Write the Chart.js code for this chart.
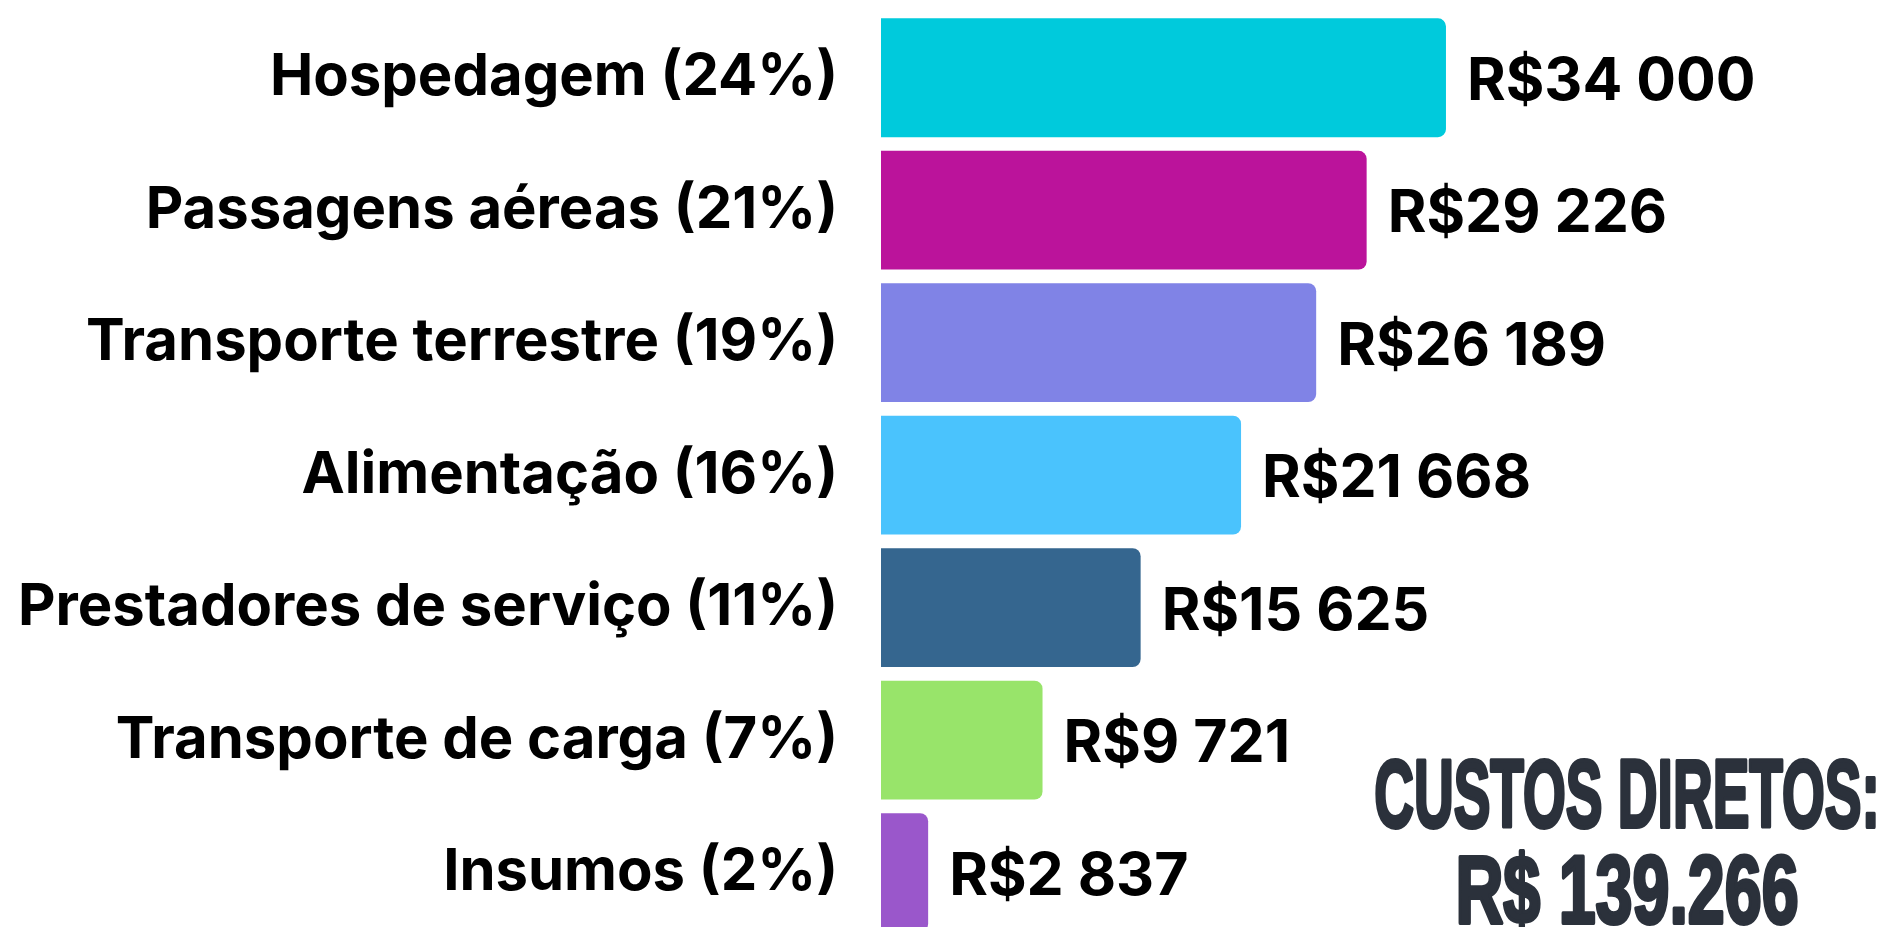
<!DOCTYPE html>
<html>
<head>
<meta charset="utf-8">
<script src="https://cdn.jsdelivr.net/npm/chart.js@4.4.0/dist/chart.umd.min.js"></script>
<style>
  html, body { margin: 0; padding: 0; background: #fff; overflow: hidden; width: 1890px; height: 927px; }
  #chart { position: absolute; left: 0; top: 0; }
</style>
</head>
<body>
<canvas id="chart" width="1890" height="950"></canvas>
<script>
const categories = ['Hospedagem', 'Passagens aéreas', 'Transporte terrestre', 'Alimentação',
  'Prestadores de serviço', 'Transporte de carga', 'Insumos'];
const values = [34000, 29226, 26189, 21668, 15625, 9721, 2837];
const barColors = ['#00cadc', '#bb139b', '#8083e6', '#4ac3fd', '#35668f', '#98e46a', '#9a57cb'];

const total = values.reduce((a, b) => a + b, 0);
const labels = categories.map((c, i) => c + ' (' + Math.round(values[i] / total * 100) + '%)');
const fmt = (v, sep) => v.toString().replace(/\B(?=(\d{3})+(?!\d))/g, sep);
const totalLines = ['CUSTOS DIRETOS:', 'R$ ' + fmt(total, '.')];

const FONT = 'Inter, "DejaVu Sans", sans-serif';

// values at the end of each bar
const valueLabels = {
  id: 'valueLabels',
  afterDatasetsDraw(chart) {
    const ctx = chart.ctx;
    const meta = chart.getDatasetMeta(0);
    ctx.save();
    ctx.font = '700 59px ' + FONT;
    ctx.fillStyle = '#000';
    ctx.textAlign = 'left';
    ctx.textBaseline = 'alphabetic';
    meta.data.forEach((bar, i) => {
      ctx.fillText('R$' + fmt(values[i], ' '), bar.x + 21, bar.y + 22);
    });
    ctx.restore();
  }
};

// condensed headline in the bottom right, squeezed to the original widths
const totalText = {
  id: 'totalText',
  afterDraw(chart) {
    const ctx = chart.ctx;
    const lines = [
      { text: totalLines[0], base: 827, width: 508 },
      { text: totalLines[1], base: 923, width: 346 }
    ];
    ctx.save();
    ctx.font = '700 96px "Liberation Sans", Arial, sans-serif';
    ctx.fillStyle = '#2b313b';
    ctx.strokeStyle = '#2b313b';
    ctx.lineWidth = 4;
    ctx.lineJoin = 'round';
    ctx.textAlign = 'center';
    ctx.textBaseline = 'alphabetic';
    lines.forEach(l => {
      const sx = l.width / (ctx.measureText(l.text).width + 4);
      ctx.save();
      ctx.translate(1627, l.base);
      ctx.scale(sx, 1);
      ctx.fillText(l.text, 0, 0);
      ctx.strokeText(l.text, 0, 0);
      ctx.restore();
    });
    ctx.restore();
  }
};

new Chart(document.getElementById('chart'), {
  type: 'bar',
  data: {
    labels: labels,
    datasets: [{
      data: values,
      backgroundColor: barColors,
      borderWidth: 0,
      borderRadius: 8,
      borderSkipped: 'start',
      barPercentage: 0.897,
      categoryPercentage: 1
    }]
  },
  options: {
    indexAxis: 'y',
    responsive: false,
    animation: false,
    layout: { padding: { top: 11.5, bottom: 11.2, left: 0, right: 12 } },
    plugins: { legend: { display: false }, tooltip: { enabled: false } },
    scales: {
      x: { display: false, min: 0, max: 60000 },
      y: {
        afterFit(scale) {
          scale.width = 881;
          scale.paddingTop = 0;
          scale.paddingBottom = 0;
        },
        grid: { display: false, drawTicks: false },
        border: { display: false },
        ticks: {
          padding: 43,
          color: '#000',
          font: { family: FONT, size: 58, weight: 700 }
        }
      }
    }
  },
  plugins: [valueLabels, totalText]
});
</script>
</body>
</html>
